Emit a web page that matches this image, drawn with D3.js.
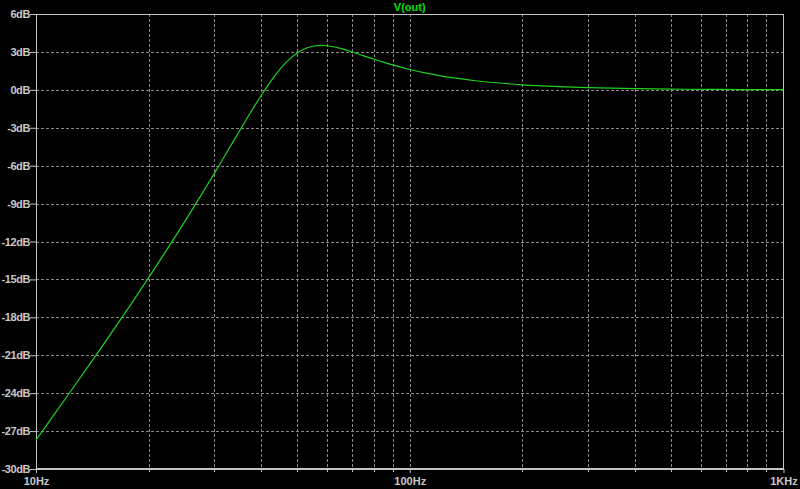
<!DOCTYPE html>
<html>
<head>
<meta charset="utf-8">
<script src="https://cdn.jsdelivr.net/npm/d3@7"></script>
<style>
  html, body { margin: 0; padding: 0; background: #000; }
  svg { display: block; }
  text { font-family: "Liberation Sans", Arial, sans-serif; font-weight: bold; font-size: 11px; }
</style>
</head>
<body>
<svg id="chart" width="800" height="489"></svg>
<script>
// ---- data ----
const title = "V(out)";
const freqs = [10, 11, 12, 13, 14, 15, 16, 18, 20, 22, 24, 26, 28, 30, 32, 34, 36, 38, 40, 42, 44, 46, 48, 50, 52, 55, 58, 60, 63, 66, 70, 75, 80, 85, 90, 100, 110, 120, 130, 150, 170, 200, 250, 300, 400, 500, 600, 800, 1000];
const voutDb = [-27.70, -25.99, -24.42, -22.96, -21.60, -20.33, -19.13, -16.91, -14.88, -13.00, -11.26, -9.62, -8.07, -6.61, -5.21, -3.90, -2.67, -1.52, -0.47, 0.47, 1.29, 1.97, 2.51, 2.92, 3.21, 3.45, 3.52, 3.49, 3.39, 3.24, 3.01, 2.71, 2.44, 2.19, 1.97, 1.61, 1.34, 1.13, 0.96, 0.72, 0.56, 0.40, 0.26, 0.18, 0.10, 0.06, 0.04, 0.02, 0.015];
const yTickValues = [6, 3, 0, -3, -6, -9, -12, -15, -18, -21, -24, -27, -30];
const yTickLabels = ["6dB", "3dB", "0dB", "-3dB", "-6dB", "-9dB", "-12dB", "-15dB", "-18dB", "-21dB", "-24dB", "-27dB", "-30dB"];
const xTickValues = [10, 100, 1000];
const xTickLabels = ["10Hz", "100Hz", "1KHz"];
const xMinorGrid = [20, 30, 40, 50, 60, 70, 80, 90, 200, 300, 400, 500, 600, 700, 800, 900];

// ---- layout ----
const L = 36, R = 783.5, T = 14, B = 469;
const svg = d3.select("#chart");
svg.append("rect").attr("width", 800).attr("height", 489).attr("fill", "#000");

const x = d3.scaleLog().domain([10, 1000]).range([L, R]);
const y = d3.scaleLinear().domain([-30, 6]).range([B, T]);

const axisColor = "#c4c4c4";
const gridColor = "#8a8a8a";
const textColor = "#c8c8c8";

// grid
const grid = svg.append("g").attr("stroke", gridColor).attr("stroke-width", 1).attr("stroke-dasharray", "3,2");
grid.selectAll("line.v").data(xMinorGrid.concat([100])).join("line")
  .attr("x1", d => Math.round(x(d)) + 0.5).attr("x2", d => Math.round(x(d)) + 0.5)
  .attr("y1", T).attr("y2", B);
grid.selectAll("line.h").data(yTickValues.filter(v => v !== 6 && v !== -30)).join("line")
  .attr("x1", L).attr("x2", R)
  .attr("y1", d => Math.round(y(d)) + 0.5).attr("y2", d => Math.round(y(d)) + 0.5);

// y axis
const yAxis = d3.axisLeft(y).tickValues(yTickValues)
  .tickFormat((d, i) => yTickLabels[i]).tickSize(6).tickPadding(0);
const gy = svg.append("g").attr("transform", `translate(${L},0)`).call(yAxis);
gy.select(".domain").remove();
gy.selectAll("line").attr("stroke", axisColor);
gy.selectAll("text").attr("fill", textColor)
  .style("font-family", '"Liberation Sans", Arial, sans-serif').style("font-weight", "bold")
  .style("font-size", "11px").style("letter-spacing", "-0.4px");

// x axis (major labelled ticks)
const xAxis = d3.axisBottom(x).tickValues(xTickValues)
  .tickFormat((d, i) => xTickLabels[i]).tickSize(4).tickPadding(4);
const gx = svg.append("g").attr("transform", `translate(0,${B})`).call(xAxis);
gx.select(".domain").remove();
gx.selectAll("line").attr("stroke", axisColor);
gx.selectAll("text").attr("fill", textColor)
  .style("font-family", '"Liberation Sans", Arial, sans-serif').style("font-weight", "bold").style("font-size", "11px");

// x minor ticks
svg.append("g").selectAll("line").data(xMinorGrid).join("line")
  .attr("x1", d => Math.round(x(d)) + 0.5).attr("x2", d => Math.round(x(d)) + 0.5)
  .attr("y1", B).attr("y2", B + 3).attr("stroke", axisColor);

// frame
svg.append("line").attr("x1", L + 0.5).attr("x2", L + 0.5).attr("y1", T).attr("y2", B).attr("stroke", axisColor);
svg.append("line").attr("x1", R).attr("x2", R).attr("y1", T).attr("y2", B).attr("stroke", axisColor);
svg.append("line").attr("x1", L).attr("x2", R).attr("y1", T + 0.5).attr("y2", T + 0.5).attr("stroke", axisColor);
svg.append("line").attr("x1", L).attr("x2", R + 0.5).attr("y1", B).attr("y2", B).attr("stroke", axisColor).attr("stroke-width", 2);

// title
svg.append("text").attr("x", (L + R) / 2).attr("y", 11).attr("text-anchor", "middle")
  .attr("fill", "#00e000").text(title);

// curve
const pts = freqs.map((f, i) => [f, voutDb[i]]);
svg.append("path").datum(pts)
  .attr("fill", "none").attr("stroke", "#1ed21e").attr("stroke-width", 1.2)
  .attr("d", d3.line().x(d => x(d[0])).y(d => y(d[1])).curve(d3.curveMonotoneX));
</script>
</body>
</html>
